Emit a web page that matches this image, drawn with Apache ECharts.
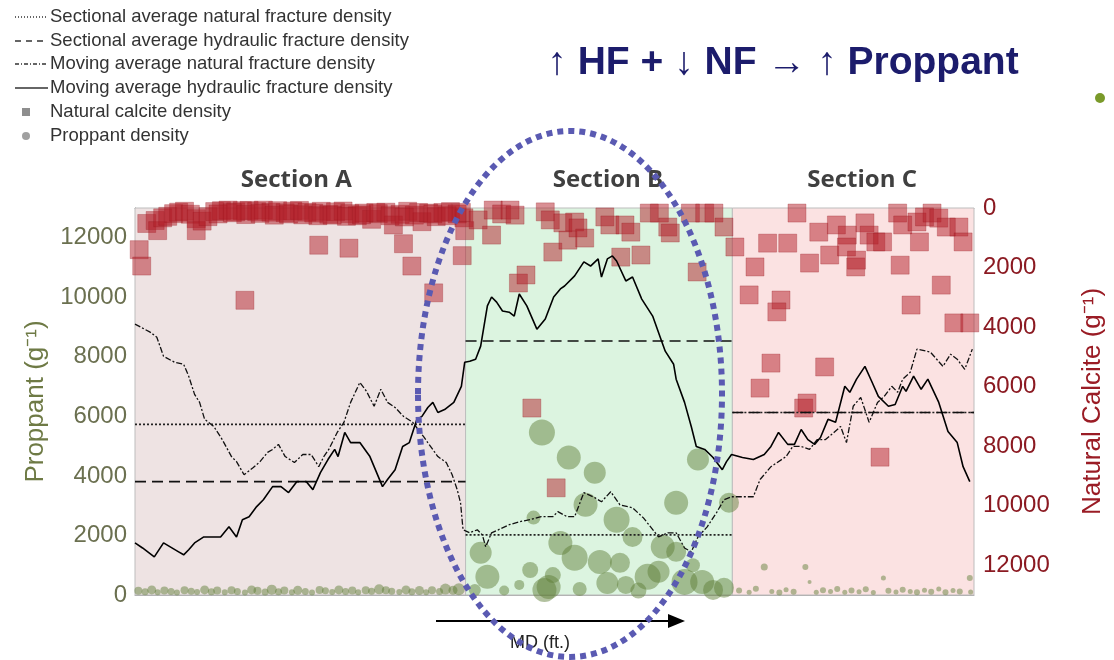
<!DOCTYPE html>
<html>
<head>
<meta charset="utf-8">
<script src="https://cdn.jsdelivr.net/npm/echarts@6/dist/echarts.min.js"></script>
<style>html,body{margin:0;padding:0;background:#fff}#c{width:1114px;height:660px}</style>
</head>
<body>
<div id="c"></div>
<script>
// ---------- DATA ----------
const sectionNames = ['Section A', 'Section B', 'Section C'];
const sectionBounds = [0, 39.4, 71.2, 100];          // MD positions of section boundaries
const sectionAvgNF = [5730, 2020, 6130];             // sectional average natural fracture density
const sectionAvgHF = [3810, 8530, 6130];             // sectional average hydraulic fracture density
const leftTicks = [0, 2000, 4000, 6000, 8000, 10000, 12000];
const rightTicks = [0, 2000, 4000, 6000, 8000, 10000, 12000];

const movingNF = [[0,9100],[1.8,8830],[2.6,8660],[3.4,8020],[4.7,7820],[5.8,7750],[6.4,7350],[7.1,6740],[7.7,6470],[8.3,5900],[9.4,5660],[10.4,5220],[11.5,4650],[12.1,4480],[13.0,4040],[14.1,4280],[14.9,4480],[15.8,4790],[16.4,4890],[17.1,5060],[17.9,4650],[19.0,4450],[20.0,4720],[21.0,4720],[21.9,4310],[22.5,4650],[23.1,4890],[24.1,5460],[24.9,5800],[25.7,6470],[26.8,7140],[27.6,6840],[28.5,6340],[29.3,6910],[30.1,6470],[31.0,6300],[32.0,6000],[33.1,5800],[34.4,5320],[34.9,5120],[36.1,4650],[37.1,4450],[37.8,4040],[38.4,3540],[38.8,3100],[39.1,2190],[39.9,2090],[40.8,2190],[41.4,2020],[41.8,1620],[42.5,2090],[43.3,2190],[44.6,2360],[45.8,2460],[47.1,2530],[48.4,2630],[49.8,2630],[50.4,2800],[51.5,2630],[52.4,2630],[53.5,3440],[54.8,3270],[55.6,3130],[56.7,3470],[57.8,3030],[59.3,2930],[60.6,2590],[62.4,1950],[63.5,2090],[64.5,2090],[65.5,1580],[66.3,1450],[67.1,1950],[68.2,2290],[69.3,2760],[70.2,3200],[71.1,3300],[73.7,3300],[74.5,3880],[75.8,4310],[77.6,4650],[78.4,4990],[79.4,4990],[80.4,4890],[81.3,5220],[82.3,5220],[83.3,5460],[84.1,5660],[84.8,5120],[85.6,6340],[86.5,6640],[87.5,5800],[88.5,6470],[89.3,6670],[90.2,7010],[90.9,6810],[91.5,7250],[92.4,7480],[93.2,8260],[94.8,8160],[96.3,7680],[97.2,8090],[98.0,7920],[98.9,7580],[99.8,8260]];

const movingHF = [[0,1750],[0.9,1580],[2.3,1280],[3.4,1750],[5.2,1450],[5.8,1350],[6.4,1520],[7.1,1750],[8.2,1950],[10.2,1950],[11.2,2290],[12.1,1950],[12.8,2530],[13.6,2630],[14.5,2970],[15.3,3200],[16.4,3640],[17.4,3640],[18.3,3440],[19.3,3810],[20.4,3810],[21.2,3540],[22.1,4110],[23.0,4550],[23.8,4890],[24.2,4650],[25.0,5460],[25.7,5120],[26.8,5120],[28.0,4650],[29.5,3640],[30.1,3880],[31.0,4210],[31.9,4990],[32.7,5120],[33.6,5900],[34.2,6000],[34.9,6300],[35.5,6470],[36.1,6130],[36.9,6230],[38.0,6470],[38.9,7010],[39.3,7820],[39.9,7850],[40.6,7920],[41.2,8360],[42.0,9710],[42.5,10010],[43.1,9840],[43.8,9540],[44.6,9500],[45.2,9370],[45.8,10110],[46.7,9710],[47.9,8930],[48.9,9270],[49.9,10010],[50.7,10280],[51.2,10380],[52.4,10720],[53.5,11190],[54.3,11050],[55.2,11290],[55.6,10680],[56.3,11290],[56.9,11390],[57.4,11220],[58.5,10550],[59.3,10680],[60.4,9940],[61.7,9370],[62.6,8660],[63.2,8190],[64.2,7750],[64.5,7250],[65.5,6470],[66.3,5660],[66.9,4990],[67.9,4890],[68.9,4620],[70.0,4210],[70.5,4480],[71.1,4720],[72.4,4620],[73.7,4550],[75.0,4720],[75.8,4990],[76.7,5460],[77.8,5060],[78.6,5060],[79.4,5560],[80.2,5220],[81.0,5060],[81.7,5290],[82.6,5900],[83.5,5800],[84.6,7010],[85.2,6810],[86.0,7250],[87.0,7680],[87.8,7180],[88.6,6670],[89.8,6340],[90.6,6400],[91.5,7010],[91.9,6840],[92.8,7350],[93.7,6910],[94.5,7250],[95.8,6470],[96.9,5490],[98.0,5120],[98.7,4310],[99.5,3810]];

// Natural calcite density [MD, value] (right axis, inverted)
const calcite = [
 [0.5,1400],[0.8,1950],[1.4,520],[2.4,420],[2.7,760],[3.3,330],[3.9,280],[4.6,190],[5.2,140],[5.9,110],[6.6,210],[7.3,360],[7.3,760],[8.0,440],[8.7,290],
 [9.5,120],[10.3,90],[11.1,70],[12.0,130],[12.8,90],[13.6,80],[14.5,120],[15.3,70],[16.2,140],[17.0,90],[17.9,160],[18.8,100],[19.6,80],[20.5,140],[21.3,170],[22.2,110],[23.1,210],[23.9,130],[24.8,100],[25.6,190],[26.5,260],[27.3,170],[28.2,380],[29.0,190],[29.9,140],[30.8,570],[31.6,210],[32.5,110],[33.3,240],[34.2,460],[35.0,170],[35.9,290],[36.7,150],[37.6,120],[38.4,200],[39.2,330],
 [9.9,200],[11.6,160],[13.2,220],[14.9,180],[16.6,240],[18.3,200],[20.0,230],[21.8,260],[23.5,240],[25.2,280],[27.0,230],[28.7,150],[30.4,260],[32.1,300],[33.8,150],[35.5,200],[37.2,260],[38.9,150],
 [21.9,1250],[25.5,1350],[32.0,1200],[33.0,1950],[13.1,3100],[35.6,2850],[39.0,1600],[39.3,760],
 [40.9,400],[42.5,910],[42.7,70],[43.7,200],[44.7,70],[45.3,240],[45.7,2520],[46.6,2250],[48.9,130],[49.5,400],[49.8,1480],[51.0,500],[51.6,1080],[52.4,470],[52.8,670],[53.6,1010],[56.0,300],[56.6,570],[57.9,1650],[58.4,570],[59.1,810],[60.3,1580],[61.3,170],[62.5,170],[63.5,640],[63.8,840],[67.0,2150],[66.2,170],[67.9,170],[69.0,170],[70.2,640],[47.3,6720],[50.2,9400],
 [71.5,1310],[73.9,1980],[75.4,1180],[77.8,1180],[78.9,170],[73.2,2920],[77.0,3090],[76.5,3490],[75.8,5210],[74.5,6050],[82.2,5340],[79.7,6720],[80.1,6550],[80.4,1850],[81.5,810],[82.8,1580],[83.6,570],[84.9,910],[84.8,1310],[85.9,1980],[86.0,1750],[87.0,500],[87.5,910],[88.3,1140],[89.1,1140],[88.8,8370],[90.9,170],[91.5,570],[93.5,1140],[91.2,1920],[92.5,3260],[93.2,470],[94.1,300],[95.0,170],[95.8,340],[96.1,2590],[96.7,640],[98.2,640],[98.7,1140],[97.6,3860],[99.5,3860]
];

// Proppant density [MD, value, bubble size]
const proppant = [
 [0.4,140,8],[1.2,110,7],[2.0,170,9],[2.7,90,6],[3.5,150,8],[4.3,120,7],[5.0,80,6],[5.9,160,8],[6.7,130,7],[7.4,100,6],[8.3,170,9],[9.1,110,7],[9.8,150,8],[10.7,90,6],[11.5,160,8],[12.2,120,7],[13.1,80,6],[13.9,170,9],[14.6,140,8],[15.5,100,7],[16.3,180,10],[17.1,110,7],[17.8,150,8],[18.7,90,6],[19.4,160,9],[20.3,120,7],[21.1,80,6],[22.0,170,8],[22.7,140,7],[23.5,100,6],[24.3,170,9],[25.1,120,7],[25.9,150,8],[26.6,90,6],[27.5,160,8],[28.2,130,7],[29.1,190,10],[29.9,160,8],[30.6,130,7],[31.5,100,6],[32.3,170,9],[33.0,110,7],[33.9,150,9],[34.7,90,6],[35.4,160,8],[36.3,120,7],[37.0,200,11],[37.9,160,9],[38.6,190,12],
 [48.5,5460,26],[51.7,4620,24],[54.8,4110,22],[67.1,4550,22],[53.7,3030,24],[57.4,2530,26],[64.5,3100,24],[70.8,3100,20],[47.5,2600,14],[50.7,1750,24],[52.4,1250,26],[55.4,1110,24],[57.8,1080,20],[59.3,1950,20],[62.9,1620,24],[64.5,1450,20],[61.1,610,26],[62.4,780,22],[56.3,400,22],[58.5,340,18],[49.3,270,24],[65.5,440,26],[67.6,440,24],[68.9,170,20],[70.2,240,20],[49.8,670,16],[41.2,1420,22],[42.0,610,24],[47.1,840,16],[48.8,170,24],[45.8,340,10],[40.5,170,12],[44.0,150,10],[60.0,150,16],[53.0,200,14],[66.5,1000,14],
 [72.0,150,6],[73.2,90,5],[74.0,210,6],[75.0,940,7],[75.9,120,5],[76.8,80,6],[77.6,180,5],[78.5,110,6],[79.9,940,6],[80.4,440,4],[81.2,90,5],[82.0,160,6],[82.9,120,5],[83.7,200,6],[84.6,90,5],[85.4,150,6],[86.3,110,5],[87.1,190,6],[88.0,80,5],[89.2,570,5],[89.8,140,6],[90.7,100,5],[91.5,180,6],[92.4,120,5],[93.2,90,6],[94.1,160,5],[94.9,110,6],[95.8,200,5],[96.6,90,6],[97.5,150,5],[98.3,120,6],[99.5,570,6],[99.6,100,5]
];

// ---------- CHART ----------
const chart = echarts.init(document.getElementById('c'), null, {renderer: 'canvas'});
const bgColors = ['#eee3e3', '#dcf4e0', '#fbe2e2'];
const labelOffsets = [[-4, 0], [9, 0], [9, 0]];

function sectionSegments(vals) {
  const d = [];
  vals.forEach((v, i) => {
    d.push([sectionBounds[i], v], [sectionBounds[i + 1], v]);
    if (i < vals.length - 1) d.push([sectionBounds[i + 1], '-']);
  });
  return d;
}

const markAreaData = sectionNames.map((n, i) => [
  {name: n, xAxis: sectionBounds[i], itemStyle: {color: bgColors[i]},
   label: {offset: labelOffsets[i]}},
  {xAxis: sectionBounds[i + 1]}
]);

const tickFont = 'Liberation Sans, Arial, sans-serif';

const legendItems = [
  {y: 17, text: 'Sectional average natural fracture density', dash: [1, 2]},
  {y: 41, text: 'Sectional average hydraulic fracture density', dash: [6, 5]},
  {y: 64, text: 'Moving average natural fracture density', dash: [4, 2, 1, 2]},
  {y: 88, text: 'Moving average hydraulic fracture density', dash: null},
  {y: 112, text: 'Natural calcite density', marker: 'rect'},
  {y: 136, text: 'Proppant density', marker: 'circle'}
];
const graphics = [];
legendItems.forEach(it => {
  if (it.marker === 'rect') {
    graphics.push({type: 'rect', shape: {x: 22, y: it.y - 4, width: 8, height: 8}, style: {fill: '#8e8e8e'}});
  } else if (it.marker === 'circle') {
    graphics.push({type: 'circle', shape: {cx: 26, cy: it.y, r: 4}, style: {fill: '#a0a0a0'}});
  } else {
    graphics.push({type: 'line', shape: {x1: 15, y1: it.y, x2: 48, y2: it.y},
      style: {stroke: '#333', lineWidth: 1.3, lineDash: it.dash}});
  }
  graphics.push({type: 'text', x: 50, y: it.y,
    style: {text: it.text, font: '18.5px Liberation Sans, Arial, sans-serif', fill: '#333', textVerticalAlign: 'middle'}});
});
// title
graphics.push({type: 'text', x: 783, y: 63,
  style: {text: '↑ HF + ↓ NF → ↑ Proppant', font: 'bold 39px Liberation Sans, Arial, sans-serif',
    fill: '#1c1c6c', textAlign: 'center', textVerticalAlign: 'middle'}});
graphics.push({type: 'circle', shape: {cx: 1100, cy: 98, r: 5}, style: {fill: '#7a9a2a'}});
// MD arrow
graphics.push({type: 'line', shape: {x1: 436, y1: 621, x2: 672, y2: 621}, style: {stroke: '#000', lineWidth: 2}});
graphics.push({type: 'polygon', shape: {points: [[668, 614], [685, 621], [668, 628]]}, style: {fill: '#000'}});
graphics.push({type: 'text', x: 540, y: 643,
  style: {text: 'MD (ft.)', font: '18px Liberation Sans, Arial, sans-serif', fill: '#222', textAlign: 'center', textVerticalAlign: 'middle'}});
// highlight ellipse
graphics.push({type: 'ellipse', z: 100, shape: {cx: 570, cy: 394, rx: 152, ry: 263},
  style: {fill: 'none', stroke: '#5a5ab2', lineWidth: 6, lineDash: [6, 5]}});

const option = {
  backgroundColor: '#fff',
  animation: false,
  grid: {left: 135, right: 136, top: 208, bottom: 65},
  xAxis: [
    {type: 'value', min: 0, max: 100, axisLabel: {show: false}, axisTick: {show: false},
     splitLine: {show: false}, axisLine: {show: true, lineStyle: {color: '#a8a8a8'}}},
    {type: 'value', position: 'top', min: 0, max: 100, axisLabel: {show: false}, axisTick: {show: false},
     splitLine: {show: false}, axisLine: {show: true, lineStyle: {color: '#a8a8a8'}}}
  ],
  yAxis: [
    {type: 'value', min: 0, max: 13000, interval: 2000, position: 'left',
     name: 'Proppant (g⁻¹)', nameLocation: 'middle', nameGap: 86, nameRotate: 90,
     nameTextStyle: {color: '#6e7a45', fontSize: 26, fontFamily: tickFont},
     axisLine: {show: true, lineStyle: {color: '#a8a8a8'}},
     axisTick: {show: false},
     axisLabel: {color: '#6b7050', fontSize: 24, fontFamily: tickFont, margin: 8, showMaxLabel: false,
       formatter: v => (leftTicks.indexOf(v) >= 0 ? String(v) : '')},
     splitLine: {show: false}},
    {type: 'value', min: 0, max: 13000, interval: 2000, position: 'right', inverse: true,
     name: 'Natural Calcite (g⁻¹)', nameLocation: 'middle', nameGap: 106, nameRotate: 90,
     nameTextStyle: {color: '#9a1c25', fontSize: 26, fontFamily: tickFont},
     axisLine: {show: true, lineStyle: {color: '#a8a8a8'}},
     axisTick: {show: false},
     axisLabel: {color: '#8b1a22', fontSize: 24, fontFamily: tickFont, margin: 9, showMaxLabel: false,
       formatter: v => (rightTicks.indexOf(v) >= 0 ? String(v) : '')},
     splitLine: {show: false}}
  ],
  graphic: graphics,
  series: [
    {type: 'scatter', name: 'sections', data: [], z: 0, silent: true,
     markArea: {silent: true, itemStyle: {borderColor: '#bdbdbd', borderWidth: 1},
       label: {show: true, position: 'top', distance: 15, color: '#404040', fontSize: 24,
         fontWeight: 'bold', fontFamily: 'Open Sans, sans-serif'},
       data: markAreaData}},
    {type: 'scatter', name: 'Natural calcite density', yAxisIndex: 1, data: calcite, z: 2,
     symbol: 'rect', symbolSize: 18,
     itemStyle: {color: 'rgba(178,28,38,0.62)', borderColor: 'rgba(150,20,30,0.35)', borderWidth: 1}},
    {type: 'scatter', name: 'Proppant density', yAxisIndex: 0, data: proppant, z: 3,
     symbol: 'circle', symbolSize: d => d[2],
     itemStyle: {color: 'rgba(95,125,55,0.6)'}},
    {type: 'line', name: 'Sectional average natural fracture density', data: sectionSegments(sectionAvgNF), z: 5,
     showSymbol: false, symbol: 'none', lineStyle: {color: '#222', width: 1.6, type: [2, 2]}},
    {type: 'line', name: 'Sectional average hydraulic fracture density', data: sectionSegments(sectionAvgHF), z: 5,
     showSymbol: false, symbol: 'none', lineStyle: {color: '#111', width: 1.6, type: [11, 6]}},
    {type: 'line', name: 'Moving average natural fracture density', data: movingNF, z: 6,
     showSymbol: false, symbol: 'none', lineStyle: {color: '#111', width: 1.3, type: [6, 2, 2, 2]}},
    {type: 'line', name: 'Moving average hydraulic fracture density', data: movingHF, z: 6,
     showSymbol: false, symbol: 'none', lineStyle: {color: '#000', width: 1.6}}
  ]
};
chart.setOption(option);
</script>
</body>
</html>
